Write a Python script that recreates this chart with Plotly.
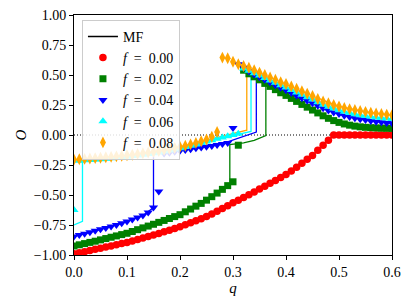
import plotly.graph_objects as go

# ---------------- data ----------------
Q_GRID = [0.00, 0.01, 0.02, 0.03, 0.04, 0.05, 0.06, 0.07, 0.08, 0.09,
          0.10, 0.11, 0.12, 0.13, 0.14, 0.15, 0.16, 0.17, 0.18, 0.19,
          0.20, 0.21, 0.22, 0.23, 0.24, 0.25, 0.26, 0.27, 0.28, 0.29,
          0.30, 0.31, 0.32, 0.33, 0.34, 0.35, 0.36, 0.37, 0.38, 0.39,
          0.40, 0.41, 0.42, 0.43, 0.44, 0.45, 0.46, 0.47, 0.48, 0.49,
          0.50, 0.51, 0.52, 0.53, 0.54, 0.55, 0.56, 0.57, 0.58, 0.59, 0.60]

O_F000 = [-0.990, -0.981, -0.972, -0.962, -0.953, -0.943, -0.934, -0.924, -0.914, -0.905,
          -0.895, -0.883, -0.871, -0.858, -0.846, -0.833, -0.820, -0.806, -0.793, -0.779,
          -0.765, -0.748, -0.732, -0.715, -0.698, -0.680, -0.658, -0.635, -0.612, -0.589,
          -0.565, -0.543, -0.520, -0.497, -0.474, -0.450, -0.427, -0.403, -0.379, -0.355,
          -0.330, -0.300, -0.268, -0.236, -0.203, -0.170, -0.128, -0.086, -0.043, 0.000,
          0.0, 0.0, 0.0, 0.0, 0.0, 0.0, 0.0, 0.0, 0.0, 0.0, 0.0]

O_F002 = [-0.925, -0.915, -0.905, -0.895, -0.885, -0.874, -0.863, -0.852, -0.841, -0.830,
          -0.819, -0.804, -0.789, -0.774, -0.759, -0.744, -0.728, -0.712, -0.696, -0.680,
          -0.664, -0.640, -0.617, -0.593, -0.570, -0.543, -0.514, -0.484, -0.453, -0.422,
          -0.390, -0.085,
          0.540, 0.510, 0.485, 0.460, 0.430, 0.405, 0.378, 0.352, 0.330, 0.305,
          0.280, 0.255, 0.232, 0.208, 0.184, 0.160, 0.139, 0.120, 0.105, 0.092,
          0.082, 0.074, 0.068, 0.064, 0.061, 0.059, 0.057, 0.056, 0.055]

O_F004 = [-0.845, -0.834, -0.822, -0.810, -0.798, -0.786, -0.774, -0.762, -0.749, -0.735,
          -0.720, -0.705, -0.688, -0.670, -0.645, -0.605,
          -0.470,
          -0.155, -0.147, -0.139, -0.132, -0.125, -0.118, -0.111, -0.104, -0.098, -0.091,
          -0.083, -0.075, -0.066,
          0.058,
          0.590, 0.560, 0.530, 0.505, 0.482, 0.460, 0.438, 0.415, 0.393, 0.372,
          0.350, 0.328, 0.307, 0.286, 0.265, 0.243, 0.222, 0.204, 0.188, 0.174,
          0.161, 0.150, 0.140, 0.131, 0.124, 0.117, 0.111, 0.106, 0.101, 0.097]

O_F006 = [-0.625,
          -0.214, -0.211, -0.208, -0.205, -0.202, -0.198, -0.194, -0.190, -0.186, -0.181,
          -0.176, -0.170, -0.164, -0.158, -0.152, -0.145, -0.137, -0.129, -0.120, -0.111,
          -0.101, -0.090, -0.079, -0.067, -0.055, -0.043, -0.031, -0.020, -0.010, 0.000,
          0.010,
          0.555, 0.535, 0.515, 0.495, 0.475, 0.455, 0.435, 0.415, 0.395, 0.375,
          0.355, 0.335, 0.315, 0.295, 0.272, 0.252, 0.235, 0.220, 0.206, 0.194,
          0.183, 0.173, 0.165, 0.158, 0.152, 0.146, 0.141, 0.137, 0.133]

O_F008 = [-0.205, -0.202, -0.199, -0.196, -0.193, -0.190, -0.186, -0.182, -0.178, -0.174,
          -0.169, -0.164, -0.158, -0.152, -0.146, -0.140, -0.133, -0.125, -0.117, -0.108,
          -0.099, -0.089, -0.078, -0.066, -0.052, -0.037, -0.015, 0.025,
          0.645, 0.640, 0.610, 0.590, 0.575, 0.560, 0.540, 0.520, 0.500, 0.480,
          0.460, 0.440, 0.425, 0.405, 0.385, 0.365, 0.345, 0.325, 0.300, 0.280,
          0.265, 0.250, 0.238, 0.226, 0.216, 0.208, 0.200, 0.193, 0.186, 0.180,
          0.175, 0.170, 0.166]

# mean-field curves (q, O) including the vertical jumps
MF_Q_F000 = [0.0, 0.05, 0.10, 0.15, 0.20, 0.25, 0.30, 0.35, 0.40, 0.45, 0.49, 0.60]
MF_O_F000 = [-0.99, -0.943, -0.895, -0.833, -0.765, -0.68, -0.565, -0.45, -0.33, -0.17, 0.0, 0.0]

MF_Q_F002 = [0.0, 0.05, 0.10, 0.15, 0.20, 0.25, 0.294, 0.294, 0.32, 0.34, 0.357, 0.362,
             0.362, 0.38, 0.40, 0.45, 0.50, 0.55, 0.60]
MF_O_F002 = [-0.925, -0.874, -0.819, -0.744, -0.664, -0.543, -0.40, -0.08, -0.066, -0.045, -0.018, -0.005,
             0.42, 0.378, 0.33, 0.208, 0.105, 0.064, 0.055]

MF_Q_F004 = [0.0, 0.05, 0.10, 0.13, 0.15, 0.15, 0.20, 0.25, 0.28, 0.30, 0.32, 0.335, 0.344,
             0.344, 0.36, 0.40, 0.45, 0.50, 0.55, 0.60]
MF_O_F004 = [-0.845, -0.786, -0.72, -0.67, -0.605, -0.145, -0.128, -0.098, -0.072, -0.042, -0.012, 0.01, 0.025,
             0.50, 0.46, 0.372, 0.265, 0.174, 0.124, 0.097]

MF_Q_F006 = [0.0, 0.016, 0.016, 0.05, 0.10, 0.15, 0.20, 0.25, 0.28, 0.30, 0.32, 0.334,
             0.334, 0.36, 0.40, 0.45, 0.50, 0.55, 0.60]
MF_O_F006 = [-0.75, -0.72, -0.215, -0.203, -0.181, -0.152, -0.111, -0.055, -0.025, -0.005, 0.015, 0.03,
             0.54, 0.475, 0.395, 0.295, 0.206, 0.158, 0.133]

MF_Q_F008 = [0.0, 0.05, 0.10, 0.15, 0.20, 0.25, 0.27, 0.285, 0.31, 0.326,
             0.326, 0.34, 0.36, 0.40, 0.45, 0.50, 0.55, 0.60]
MF_O_F008 = [-0.21, -0.192, -0.17, -0.142, -0.10, -0.042, -0.022, -0.006, 0.02, 0.04,
             0.567, 0.54, 0.50, 0.425, 0.325, 0.238, 0.193, 0.166]

ZERO_X = [0.0, 0.6]
ZERO_Y = [0.0, 0.0]

F_VALUES = ["0.00", "0.02", "0.04", "0.06", "0.08"]
COLORS = ["#ff0000", "#008000", "#0000ff", "#00ffff", "#ffa500"]
SYMBOLS = ["circle", "square", "triangle-down", "triangle-up", "diamond-tall"]
SIZES = [7.5, 7, 8, 8, 8.5]

X_TICKS = [0.0, 0.1, 0.2, 0.3, 0.4, 0.5, 0.6]
X_TICKTEXT = ["0.0", "0.1", "0.2", "0.3", "0.4", "0.5", "0.6"]
Y_TICKS = [-1.0, -0.75, -0.5, -0.25, 0.0, 0.25, 0.5, 0.75, 1.0]
Y_TICKTEXT = ["\u22121.00", "\u22120.75", "\u22120.50", "\u22120.25", "0.00", "0.25", "0.50", "0.75", "1.00"]

SERIES_O = [O_F000, O_F002, O_F004, O_F006, O_F008]
MF_Q = [MF_Q_F000, MF_Q_F002, MF_Q_F004, MF_Q_F006, MF_Q_F008]
MF_O = [MF_O_F000, MF_O_F002, MF_O_F004, MF_O_F006, MF_O_F008]

FONT = "Liberation Serif, DejaVu Serif, serif"

fig = go.Figure()

# dotted zero line
fig.add_trace(go.Scatter(x=ZERO_X, y=ZERO_Y, mode="lines",
                         line=dict(color="black", width=1.1, dash="1px,2px"),
                         showlegend=False, hoverinfo="skip"))

# MF lines
for qs, os_, col in zip(MF_Q, MF_O, COLORS):
    fig.add_trace(go.Scatter(x=qs, y=os_, mode="lines",
                             line=dict(color=col, width=1.3),
                             showlegend=False, hoverinfo="skip"))

# legend entry for MF
fig.add_trace(go.Scatter(x=[None], y=[None], mode="lines",
                         line=dict(color="black", width=1.5),
                         name="MF", legendrank=1))

# markers
for i, (os_, col, sym, sz, fv) in enumerate(zip(SERIES_O, COLORS, SYMBOLS, SIZES, F_VALUES)):
    fig.add_trace(go.Scatter(x=Q_GRID, y=os_, mode="markers",
                             marker=dict(color=col, symbol=sym, size=sz,
                                         line=dict(width=0)),
                             name="<i>f</i>\u2002=\u2002" + fv,
                             legendrank=2 + i))

fig.update_layout(
    width=407, height=305,
    margin=dict(l=74, r=15, t=15, b=50),
    plot_bgcolor="white", paper_bgcolor="white",
    font=dict(family=FONT, size=14, color="black"),
    showlegend=True,
    legend=dict(x=0.025, y=0.98, xanchor="left", yanchor="top",
                bgcolor="rgba(255,255,255,0.85)", bordercolor="#cccccc", borderwidth=1,
                font=dict(family=FONT, size=14), itemwidth=30,
                tracegroupgap=0),
)

fig.update_xaxes(range=[0, 0.6], tickvals=X_TICKS, ticktext=X_TICKTEXT, automargin=False,
                 showgrid=False, zeroline=False, showline=True, mirror=True,
                 linecolor="black", linewidth=1, ticks="outside", ticklen=4,
                 tickwidth=1, tickcolor="black",
                 title=dict(text="<i>q</i>", font=dict(family=FONT, size=15), standoff=1))
fig.update_yaxes(range=[-1, 1], tickvals=Y_TICKS, ticktext=Y_TICKTEXT, automargin=False,
                 showgrid=False, zeroline=False, showline=True, mirror=True,
                 linecolor="black", linewidth=1, ticks="outside", ticklen=4,
                 tickwidth=1, tickcolor="black",
                 title=dict(text="<i>O</i>", font=dict(family=FONT, size=15), standoff=3))

POST_JS = ("document.body.style.margin='0';document.body.style.padding='0';"
           "document.body.style.overflow='hidden';"
           "document.documentElement.style.overflow='hidden';")

fig.write_html("out.html", post_script=POST_JS, config={"displayModeBar": False})
